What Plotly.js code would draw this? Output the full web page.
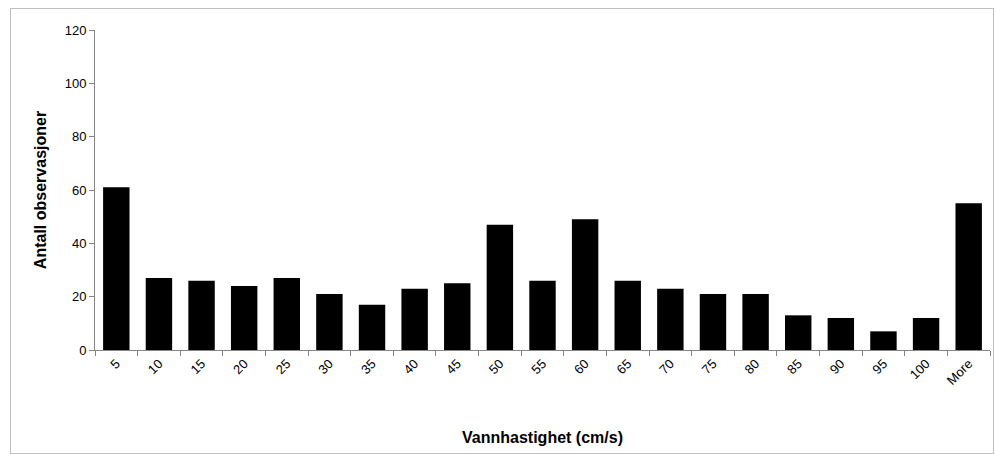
<!DOCTYPE html>
<html>
<head>
<meta charset="utf-8">
<script src="https://cdn.plot.ly/plotly-3.0.1.min.js"></script>
<style>
  body { margin: 0; background: #fff; }
  #chart { width: 995px; height: 454px; }
  #frame { position: absolute; left: 10px; top: 8px; width: 982px; height: 444px; border: 1px solid #bfbfbf; pointer-events: none; }
</style>
</head>
<body>
<div id="chart"></div>
<div id="frame"></div>
<script>
var categories = ['5', '10', '15', '20', '25', '30', '35', '40', '45', '50', '55',
    '60', '65', '70', '75', '80', '85', '90', '95', '100', 'More'];
var counts = [61, 27, 26, 24, 27, 21, 17, 23, 25, 47, 26, 49, 26, 23, 21, 21, 13, 12, 7, 12, 55];

var data = [{
    x: categories,
    y: counts,
    type: 'bar',
    marker: { color: '#000000' },
    width: 0.62
}];

var layout = {
    width: 995,
    height: 454,
    margin: { l: 95, r: 5, t: 30, b: 104 },
    paper_bgcolor: '#ffffff',
    plot_bgcolor: '#ffffff',
    font: { family: 'Liberation Sans, Arial, sans-serif', size: 13, color: '#000' },
    showlegend: false,
    xaxis: {
        type: 'category',
        tickangle: -45,
        showline: true,
        linecolor: '#868686',
        ticks: 'outside',
        tickcolor: '#868686',
        ticklen: 5,
        tickson: 'boundaries',
        tickfont: { size: 13 },
        automargin: false,
        title: { text: '<b>Vannhastighet (cm/s)</b>', font: { size: 16 }, standoff: 45 }
    },
    yaxis: {
        range: [0, 120],
        dtick: 20,
        showgrid: false,
        zeroline: false,
        showline: true,
        linecolor: '#868686',
        ticks: 'outside',
        tickcolor: '#868686',
        ticklen: 5,
        tickfont: { size: 13 },
        title: { text: '<b>Antall observasjoner</b>', font: { size: 16 }, standoff: 14 }
    }
};

Plotly.newPlot('chart', data, layout, { displayModeBar: false, staticPlot: true });
</script>
</body>
</html>
